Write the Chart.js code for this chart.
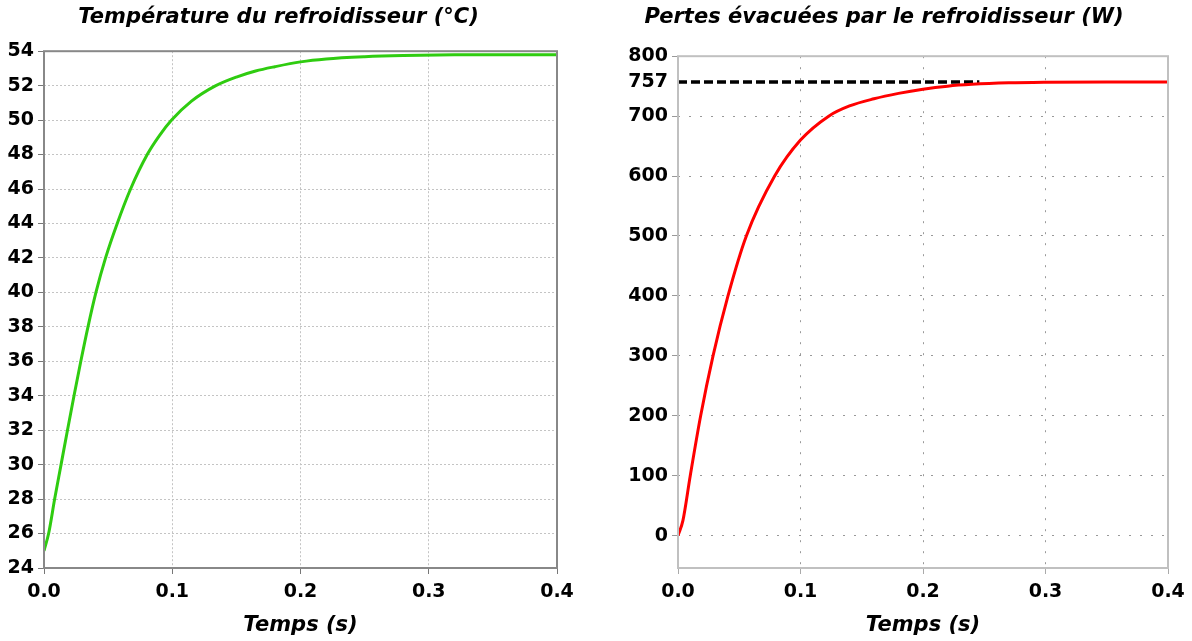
<!DOCTYPE html>
<html>
<head>
<meta charset="utf-8">
<script src="https://cdn.jsdelivr.net/npm/chart.js@4.4.1/dist/chart.umd.min.js"></script>
<style>
body { margin: 0; background: #fff; }
#wrap { position: relative; width: 1192px; height: 641px; }
#chartT { position: absolute; left: 0; top: 0; }
#chartP { position: absolute; left: 600px; top: 0; }
</style>
</head>
<body>
<div id="wrap">
<canvas id="chartT" width="600" height="641"></canvas>
<canvas id="chartP" width="592" height="641"></canvas>
</div>
<script>
// values
const timeT = [0, 0.0036, 0.0083, 0.0133, 0.0183, 0.0234, 0.0287, 0.0343, 0.0405, 0.048, 0.0571, 0.0675, 0.0805, 0.09, 0.0995, 0.115, 0.134, 0.15, 0.165, 0.18, 0.2, 0.22, 0.25, 0.28, 0.32, 0.4];
const tempC = [25, 26, 28, 30, 32, 34, 36, 38, 40, 42, 44, 46, 48, 49.1, 50, 51.1, 52, 52.5, 52.85, 53.1, 53.38, 53.55, 53.68, 53.75, 53.79, 53.8];
const timeP = [0, 0.004, 0.01, 0.0185, 0.0286, 0.0408, 0.0558, 0.0789, 0.1, 0.123, 0.14, 0.16, 0.18, 0.2, 0.22, 0.24, 0.27, 0.3, 0.35, 0.4];
const powerW = [0, 25, 100, 200, 300, 400, 500, 600, 660, 700, 717, 729, 738, 745, 750, 753, 755.5, 756.5, 757, 757];
const steadyW = 757;
const steadyEnd = 0.246;
const xTicks = [0, 0.1, 0.2, 0.3, 0.4];
const yTicksT = [24, 26, 28, 30, 32, 34, 36, 38, 40, 42, 44, 46, 48, 50, 52, 54];
const yTicksP = [0, 100, 200, 300, 400, 500, 600, 700, 757, 800];

const titleFont = { family: "'DejaVu Sans', sans-serif", size: 21, weight: 'bold', style: 'italic' };
const tickFont = { family: "'DejaVu Sans', sans-serif", size: 19, weight: 'bold' };
const axisFont = { family: "'DejaVu Sans', sans-serif", size: 21, weight: 'bold', style: 'italic' };

function toPoints(xs, ys) {
    var pts = [];
    for (var i = 0; i < xs.length; i++) {
        pts.push({ x: xs[i], y: ys[i] });
    }
    return pts;
}

// draw the box round the plot area
function boxPlugin(color, width) {
    return {
        id: 'box',
        afterDatasetsDraw(chart) {
            const a = chart.chartArea;
            const ctx = chart.ctx;
            ctx.save();
            ctx.strokeStyle = color;
            ctx.lineWidth = width;
            ctx.strokeRect(a.left, a.top, a.right - a.left, a.bottom - a.top);
            ctx.restore();
        }
    };
}

function xScale(gridDash, gridColor, tickColor) {
    return {
        type: 'linear',
        min: 0,
        max: 0.4,
        afterBuildTicks: (s) => { s.ticks = xTicks.map(v => ({ value: v })); },
        afterFit: (s) => { s.height = 73; },
        grid: { color: gridColor, tickBorderDash: [], tickColor: tickColor, tickLength: 6 },
        border: { display: false, dash: gridDash },
        ticks: { color: '#000', font: tickFont, padding: 7, maxRotation: 0, callback: (v) => Number(v).toFixed(1) },
        title: { display: true, text: 'Temps (s)', color: '#000', font: axisFont, padding: { top: 6, bottom: 3 } }
    };
}

// Chart 1: temperature
function chartTemp() {
    new Chart(document.getElementById('chartT'), {
        type: 'line',
        data: {
            datasets: [{
                data: toPoints(timeT, tempC),
                borderColor: '#2fcc10',
                borderWidth: 3,
                pointRadius: 0,
                cubicInterpolationMode: 'monotone'
            }]
        },
        options: {
            responsive: false,
            animation: false,
            devicePixelRatio: 1,
            layout: { padding: { left: 0, right: 43, top: 0, bottom: 0 } },
            plugins: {
                legend: { display: false },
                tooltip: { enabled: false },
                title: { display: true, text: 'Température du refroidisseur (°C)', color: '#000', font: titleFont, padding: { top: 5, bottom: 21 } }
            },
            scales: {
                x: xScale([2, 2], '#c4c4c4', '#777'),
                y: {
                    min: 24,
                    max: 54,
                    afterBuildTicks: (s) => { s.ticks = yTicksT.map(v => ({ value: v })); },
                    afterFit: (s) => { s.width = 44; },
                    grid: { color: '#c4c4c4', tickBorderDash: [], tickColor: '#777', tickLength: 6 },
                    border: { display: false, dash: [2, 2] },
                    ticks: { color: '#000', font: tickFont, padding: 4 }
                }
            }
        },
        plugins: [boxPlugin('#888', 2)]
    });
}

// Chart 2: power
function chartPower() {
    new Chart(document.getElementById('chartP'), {
        type: 'line',
        data: {
            datasets: [{
                data: toPoints(timeP, powerW),
                borderColor: '#ff0000',
                borderWidth: 3,
                pointRadius: 0,
                cubicInterpolationMode: 'monotone'
            }, {
                data: [{ x: 0, y: steadyW }, { x: steadyEnd, y: steadyW }],
                borderColor: '#000',
                borderWidth: 3.5,
                borderDash: [9, 4],
                pointRadius: 0
            }]
        },
        options: {
            responsive: false,
            animation: false,
            devicePixelRatio: 1,
            layout: { padding: { left: 0, right: 24, top: 0, bottom: 0 } },
            plugins: {
                legend: { display: false },
                tooltip: { enabled: false },
                title: { display: true, text: 'Pertes évacuées par le refroidisseur (W)', color: '#000', font: titleFont, padding: { top: 5, bottom: 26 } }
            },
            scales: {
                x: xScale([2, 9], '#999', '#aaa'),
                y: {
                    min: -54,
                    max: 800,
                    afterBuildTicks: (s) => { s.ticks = yTicksP.map(v => ({ value: v })); },
                    afterFit: (s) => { s.width = 78; },
                    grid: {
                        color: (c) => (c.tick && c.tick.value == steadyW) ? 'rgba(0,0,0,0)' : '#999',
                        tickBorderDash: [],
                        tickColor: (c) => (c.tick && c.tick.value == steadyW) ? 'rgba(0,0,0,0)' : '#999',
                        tickLength: 6
                    },
                    border: { display: false, dash: [2, 9] },
                    ticks: { color: '#000', font: tickFont, padding: 4 }
                }
            }
        },
        plugins: [boxPlugin('#c0c0c0', 2)]
    });
}

chartTemp();
chartPower();
</script>
</body>
</html>
